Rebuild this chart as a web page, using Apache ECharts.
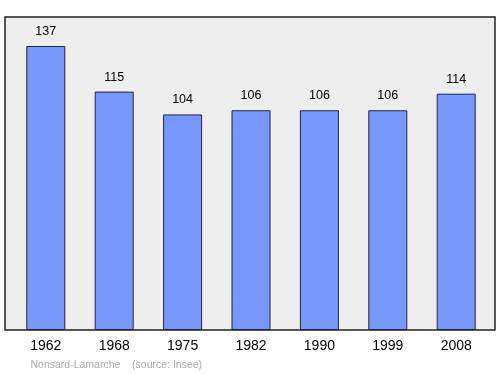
<!DOCTYPE html>
<html>
<head>
<meta charset="utf-8">
<script src="https://cdn.jsdelivr.net/npm/echarts@6/dist/echarts.min.js"></script>
<style>html,body{margin:0;padding:0;background:#fff}#c{width:500px;height:374px}</style>
</head>
<body>
<div id="c"></div>
<script>
var years = ['1962','1968','1975','1982','1990','1999','2008'];
var population = [137,115,104,106,106,106,114];
var footer = 'Nonsard-Lamarche    (source: Insee)';

var chart = echarts.init(document.getElementById('c'), null, {renderer:'canvas'});
chart.setOption({
  animation: false,
  graphic: [
    {type:'rect', z:-10, shape:{x:5,y:17,width:490,height:313}, style:{fill:'#eeeeee', stroke:'#222222', lineWidth:1.5}},
    {type:'text', left:30.5, top:359.5, style:{text:footer, fill:'#aaaaaa', font:'10.5px "Liberation Sans", Arial, sans-serif'}}
  ],
  grid: {left:11.6, right:9.6, top:17, bottom:44, containLabel:false},
  xAxis: {
    type:'category', data: years,
    axisLine:{show:false}, axisTick:{show:false},
    axisLabel:{color:'#000', fontSize:14, margin:9, fontFamily:'Liberation Sans, Arial, sans-serif'}
  },
  yAxis: {
    type:'value', min:0, max:151,
    axisLine:{show:false}, axisTick:{show:false}, axisLabel:{show:false}, splitLine:{show:false}
  },
  series: [{
    type:'bar', data: population, barWidth:'57%',
    itemStyle:{color:'#7799ff', borderColor:'#222244', borderWidth:1},
    label:{show:true, position:'top', distance:8, color:'#000', fontSize:12.5, fontFamily:'Liberation Sans, Arial, sans-serif'}
  }]
});
</script>
</body>
</html>
